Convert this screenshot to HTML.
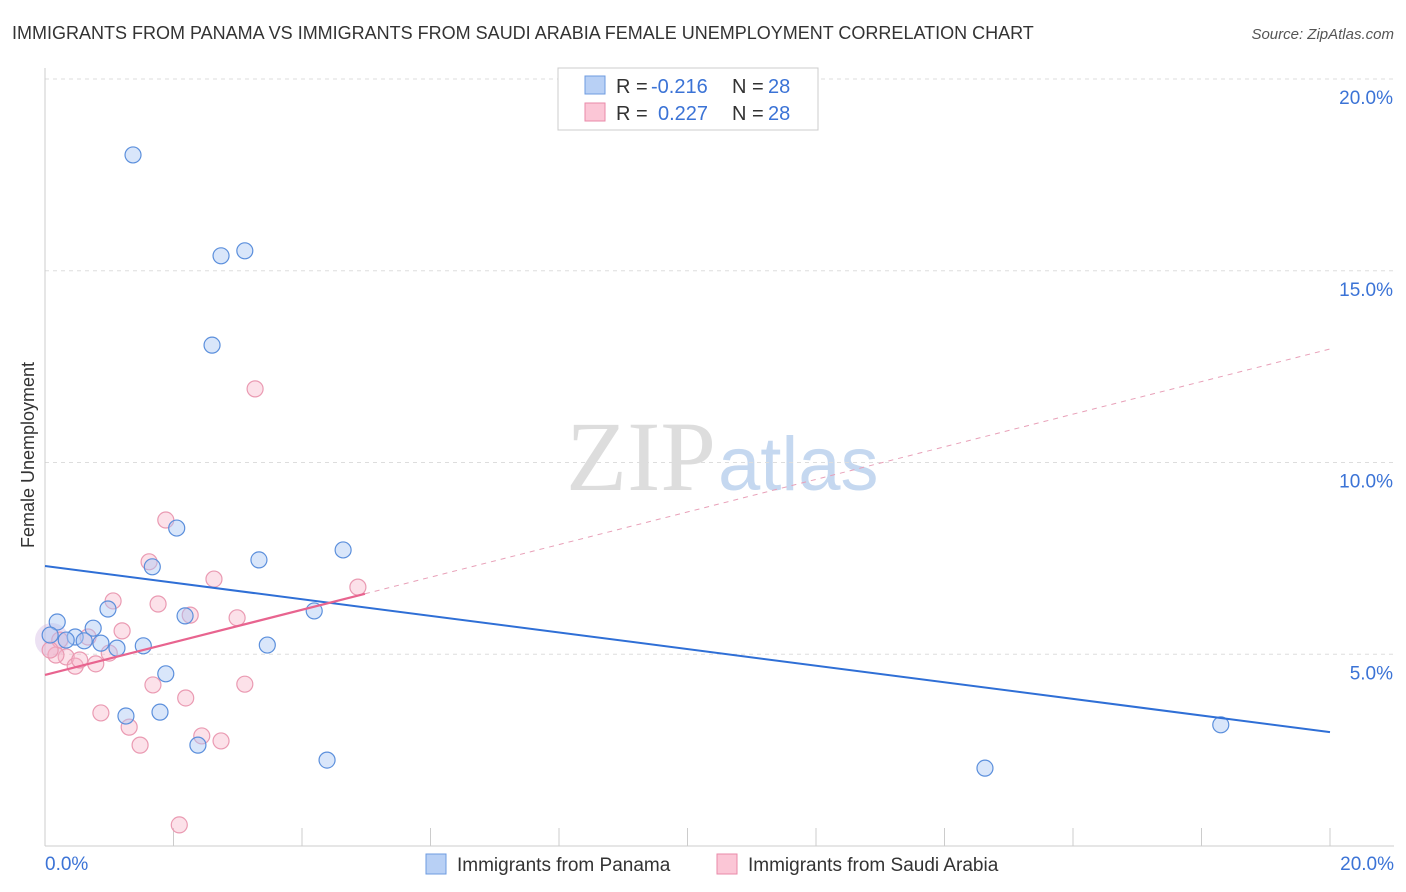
<!DOCTYPE html>
<html><head><meta charset="utf-8"><style>
body{margin:0;background:#fff;font-family:"Liberation Sans",sans-serif;}
svg{display:block}
</style></head><body>
<svg id="c" width="1406" height="892" xmlns="http://www.w3.org/2000/svg">
<text x="12" y="39" font-size="18" fill="#333">IMMIGRANTS FROM PANAMA VS IMMIGRANTS FROM SAUDI ARABIA FEMALE UNEMPLOYMENT CORRELATION CHART</text>
<text x="1394" y="39" font-size="15" fill="#555" font-style="italic" text-anchor="end">Source: ZipAtlas.com</text>
<text x="716" y="490" font-size="100" fill="#ddd" text-anchor="end" font-family="Liberation Serif">ZIP</text>
<text x="718" y="490" font-size="76" fill="#c5d8f0">atlas</text>
<g id="grid"></g>
<g id="axes"></g>
<g id="marks"></g>
<text transform="translate(34,455) rotate(-90)" font-size="18" fill="#333" text-anchor="middle">Female Unemployment</text>
<g>
<rect x="558" y="68" width="260" height="62" fill="#fff" stroke="#ccc"/>
<rect x="585" y="76" width="20" height="18" fill="#b8d0f5" stroke="#6e9be0"/>
<rect x="585" y="103" width="20" height="18" fill="#fbc6d6" stroke="#ea8aa8"/>
<text x="616" y="93" font-size="20" fill="#333">R =</text>
<text x="651" y="93" font-size="20" fill="#3b73d6">-0.216</text>
<text x="732" y="93" font-size="20" fill="#333">N =</text>
<text x="768" y="93" font-size="20" fill="#3b73d6">28</text>
<text x="616" y="120" font-size="20" fill="#333">R =</text>
<text x="658" y="120" font-size="20" fill="#3b73d6">0.227</text>
<text x="732" y="120" font-size="20" fill="#333">N =</text>
<text x="768" y="120" font-size="20" fill="#3b73d6">28</text>
</g>
<g>
<rect x="426" y="854" width="20" height="20" fill="#b8d0f5" stroke="#6e9be0"/>
<text x="457" y="871" font-size="19" fill="#333">Immigrants from Panama</text>
<rect x="717" y="854" width="20" height="20" fill="#fbc6d6" stroke="#ea8aa8"/>
<text x="748" y="871" font-size="19" fill="#333">Immigrants from Saudi Arabia</text>
</g>
</svg>
<script>
const yTicks=[5,10,15,20];
const xTickLabels=["0.0%","20.0%"];
const blueX=[1.37,2.74,3.11,2.60,2.05,1.67,3.33,4.64,0.98,2.18,4.19,0.19,0.75,0.47,0.33,0.61,0.87,1.12,1.53,3.46,1.88,1.26,1.79,2.38,4.39,14.63,18.30,0.08];
const blueY=[18.02,15.39,15.52,13.06,8.29,7.28,7.46,7.72,6.18,6.00,6.13,5.84,5.68,5.45,5.37,5.35,5.29,5.16,5.22,5.24,4.49,3.39,3.49,2.63,2.24,2.03,3.16,5.50];
const pinkX=[3.27,1.88,1.62,2.63,4.87,1.06,1.76,2.26,2.99,1.20,0.67,0.33,0.47,0.79,1.00,0.17,1.68,2.19,3.11,0.87,1.31,1.48,2.44,2.74,2.09,0.23,0.08,0.54];
const pinkY=[11.92,8.50,7.41,6.96,6.75,6.39,6.31,6.02,5.95,5.61,5.45,4.93,4.69,4.75,5.03,4.98,4.20,3.86,4.22,3.47,3.10,2.63,2.87,2.74,0.55,5.37,5.11,4.85];
const blueTrend=[7.3,2.97];
const pinkTrend=[4.46,12.96];
const pinkSolidEnd=4.98;
const X=v=>45+v/20*1285, Y=v=>846-v/20*767;
const NS="http://www.w3.org/2000/svg";
function mk(t,a,p){const e=document.createElementNS(NS,t);for(const k in a)e.setAttribute(k,a[k]);document.getElementById(p).appendChild(e);return e;}
yTicks.forEach(t=>{
 const l=mk('line',{x1:45,x2:1394,y1:Y(t),y2:Y(t),stroke:'#ddd','stroke-dasharray':'4,4'},'grid');
 
 
 const tx=mk('text',{x:1393,y:Y(t)+25,'font-size':19,fill:'#3b73d6','text-anchor':'end'},'axes');
 tx.textContent=t.toFixed(1)+'%';
 
 
});
mk('line',{x1:45,x2:45,y1:68,y2:846,stroke:'#ccc'},'axes');
mk('line',{x1:45,x2:1394,y1:846,y2:846,stroke:'#ccc'},'axes');
for(let i=0;i<=10;i++){const t=mk('line',{x1:X(i*2),x2:X(i*2),y1:828,y2:846,stroke:'#ccc'},'axes');
 
 }
const xl0=mk('text',{x:45,y:870,'font-size':19,fill:'#3b73d6'},'axes');xl0.textContent=xTickLabels[0];


const xl1=mk('text',{x:1394,y:870,'font-size':19,fill:'#3b73d6','text-anchor':'end'},'axes');xl1.textContent=xTickLabels[1];


mk('circle',{cx:52,cy:640,r:17,fill:'rgba(200,170,220,0.35)',stroke:'none'},'marks');
pinkX.forEach((x,i)=>{const c=mk('circle',{cx:X(x),cy:Y(pinkY[i]),r:8,fill:'rgba(248,180,200,0.4)',stroke:'#ea9ab2','stroke-width':1.2},'marks');
 
 });
blueX.forEach((x,i)=>{const c=mk('circle',{cx:X(x),cy:Y(blueY[i]),r:8,fill:'rgba(170,200,245,0.45)',stroke:'#5b8fdc','stroke-width':1.2},'marks');
 
 });
const bl=mk('line',{x1:X(0),y1:Y(blueTrend[0]),x2:X(20),y2:Y(blueTrend[1]),stroke:'#2f6fd6','stroke-width':2},'marks');


const pe=pinkTrend[0]+(pinkTrend[1]-pinkTrend[0])*pinkSolidEnd/20;
const ps=mk('line',{x1:X(0),y1:Y(pinkTrend[0]),x2:X(pinkSolidEnd),y2:Y(pe),stroke:'#e8648f','stroke-width':2.2},'marks');


const pd=mk('line',{x1:X(pinkSolidEnd),y1:Y(pe),x2:X(20),y2:Y(pinkTrend[1]),stroke:'#e8a0b8','stroke-width':1,'stroke-dasharray':'5,5'},'marks');


</script>
</body></html>
